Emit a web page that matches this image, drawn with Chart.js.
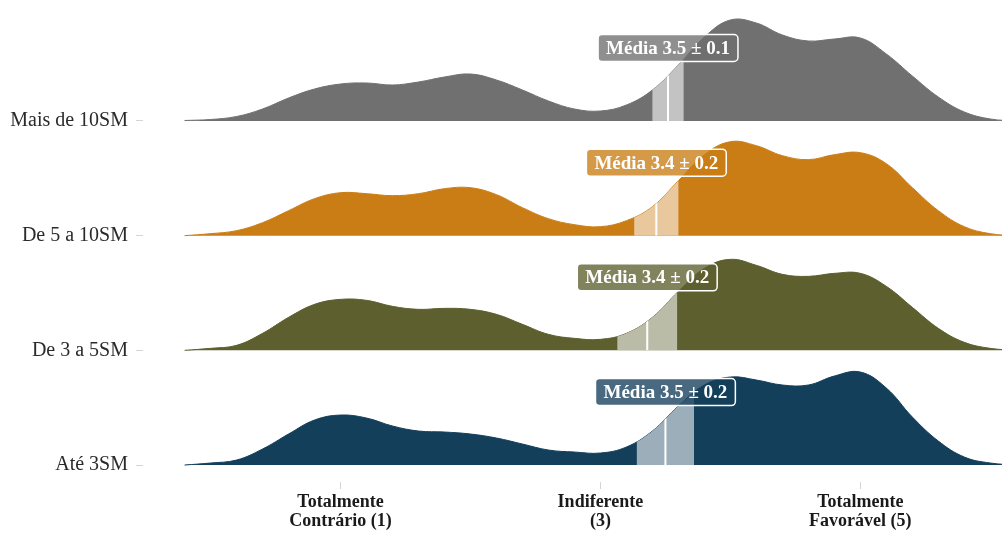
<!DOCTYPE html>
<html lang="pt">
<head>
<meta charset="utf-8">
<title>Distribuição das respostas por faixa de renda</title>
<script src="https://cdn.jsdelivr.net/npm/chart.js@4.4.1/dist/chart.umd.min.js"></script>
<style>
  body { margin: 0; background: #fff; }
</style>
</head>
<body>
<canvas id="ridges" width="1002" height="533"></canvas>
<script>
// faixas de renda, de baixo para cima
let faixas = ["Até 3SM", "De 3 a 5SM", "De 5 a 10SM", "Mais de 10SM"];
let cores = ["#143f5b", "#5d602e", "#c97d14", "#707070"];

// pontos da escala onde a densidade foi lida
let notas = [-0.2, 0, 0.2, 0.4, 0.6, 0.8, 1, 1.2, 1.4, 1.6, 1.8, 2, 2.2, 2.4, 2.6, 2.8,
             3, 3.2, 3.4, 3.6, 3.8, 4, 4.2, 4.4, 4.6, 4.8, 5, 5.2, 5.4, 5.6, 5.8, 6, 6.2];

let densAte3 = [0, 0.02, 0.05, 0.16, 0.31, 0.45, 0.50, 0.47, 0.39, 0.34, 0.33, 0.31, 0.27, 0.21, 0.15, 0.13,
                0.12, 0.18, 0.34, 0.59, 0.80, 0.88, 0.85, 0.80, 0.80, 0.89, 0.93, 0.77, 0.48, 0.24, 0.08, 0.02, 0];
let dens3a5 = [0, 0.02, 0.05, 0.17, 0.33, 0.46, 0.51, 0.50, 0.44, 0.41, 0.42, 0.41, 0.36, 0.26, 0.16, 0.12,
               0.11, 0.17, 0.33, 0.59, 0.82, 0.91, 0.85, 0.76, 0.74, 0.77, 0.77, 0.64, 0.43, 0.22, 0.08, 0.02, 0];
let dens5a10 = [0, 0.02, 0.05, 0.13, 0.25, 0.37, 0.43, 0.42, 0.40, 0.42, 0.47, 0.48, 0.41, 0.28, 0.17, 0.11,
                0.09, 0.15, 0.29, 0.55, 0.81, 0.94, 0.90, 0.80, 0.76, 0.81, 0.83, 0.72, 0.48, 0.25, 0.09, 0.02, 0];
let densMais10 = [0.005, 0.015, 0.045, 0.12, 0.23, 0.32, 0.37, 0.38, 0.36, 0.39, 0.44, 0.47, 0.41, 0.31, 0.20, 0.12,
                  0.10, 0.16, 0.31, 0.56, 0.84, 1.01, 0.98, 0.86, 0.80, 0.82, 0.83, 0.67, 0.45, 0.24, 0.09, 0.02, 0];

// média e margem de erro de cada faixa
let medias = [3.50, 3.36, 3.43, 3.52];
let erros = [0.22, 0.23, 0.17, 0.12];

let ticksX = [1, 3, 5];
let rotulosX = [["Totalmente", "Contrário (1)"], ["Indiferente", "(3)"], ["Totalmente", "Favorável (5)"]];

let escala = 0.872; // altura das cristas em unidades de linha
let densidades = [densAte3, dens3a5, dens5a10, densMais10];

function rgba(hex, a) {
  let n = parseInt(hex.slice(1), 16);
  return `rgba(${(n >> 16) & 255},${(n >> 8) & 255},${n & 255},${a})`;
}

// sem folga extra em volta dos eixos
function semFolga(s) {
  s.paddingTop = 0;
  s.paddingBottom = 0;
  s.paddingLeft = 0;
  s.paddingRight = 0;
}

// faixa da margem de erro, linha da média e caixa com o texto
const faixaMedia = {
  id: "faixaMedia",
  afterDatasetsDraw(chart) {
    const { ctx, chartArea, scales: { x, y } } = chart;
    faixas.forEach((f, i) => {
      const linha = chart.getDatasetMeta(i).dataset;
      const pts = linha.points;
      const base = y.getPixelForValue(i);
      const xm = x.getPixelForValue(medias[i]);
      const x0 = x.getPixelForValue(medias[i] - erros[i]);
      const x1 = x.getPixelForValue(medias[i] + erros[i]);

      ctx.save();
      ctx.beginPath();
      linha.path(ctx);
      ctx.lineTo(pts[pts.length - 1].x, base);
      ctx.lineTo(pts[0].x, base);
      ctx.closePath();
      ctx.clip();
      ctx.fillStyle = "rgba(255,255,255,0.58)";
      ctx.fillRect(x0, chartArea.top, x1 - x0, base - chartArea.top);
      ctx.fillStyle = "#ffffff";
      ctx.fillRect(xm - 1, chartArea.top, 2, base - chartArea.top);
      ctx.restore();

      const texto = "Média " + medias[i].toFixed(1) + " ± " + erros[i].toFixed(1);
      ctx.save();
      ctx.font = "bold 19px 'Liberation Serif'";
      const w = ctx.measureText(texto).width + 16;
      const h = 27;
      const cy = base - 73;
      ctx.beginPath();
      ctx.roundRect(xm - w / 2, cy - h / 2, w, h, 4);
      ctx.fillStyle = rgba(cores[i], 0.78);
      ctx.fill();
      ctx.lineWidth = 1.5;
      ctx.strokeStyle = "#ffffff";
      ctx.stroke();
      ctx.fillStyle = "#ffffff";
      ctx.textAlign = "center";
      ctx.textBaseline = "middle";
      ctx.fillText(texto, xm, cy + 1);
      ctx.restore();
    });
  }
};

let ctx = document.getElementById("ridges").getContext("2d");

let ridgeChart = new Chart(ctx, {
  type: "line",
  data: {
    datasets: faixas.map((f, i) => ({
      label: f,
      data: notas.map((v, j) => ({ x: v, y: i + densidades[i][j] * escala })),
      backgroundColor: cores[i],
      borderColor: cores[i],
      borderWidth: 1,
      fill: { value: i },
      tension: 0.4,
      pointRadius: 0,
    })),
  },
  options: {
    responsive: false,
    animation: false,
    events: [],
    layout: { padding: 0 },
    plugins: {
      legend: { display: false },
      tooltip: { enabled: false },
    },
    scales: {
      x: {
        type: "linear",
        min: -0.52,
        max: 6.09,
        afterFit: (s) => { s.height = 51; semFolga(s); },
        afterBuildTicks: (s) => { s.ticks = ticksX.map((v) => ({ value: v })); },
        ticks: {
          callback: (v, idx) => rotulosX[idx],
          autoSkip: false,
          maxRotation: 0,
          padding: 4,
          color: "#1a1a1a",
          font: { family: "Liberation Serif", weight: "bold", size: 18, lineHeight: 1.06 },
        },
        grid: { drawOnChartArea: false, tickLength: 7, color: "#d4d4d4" },
        border: { display: false },
      },
      y: {
        type: "linear",
        min: -0.148,
        max: 4.055,
        afterFit: (s) => { s.width = 143; semFolga(s); },
        afterBuildTicks: (s) => { s.ticks = faixas.map((f, i) => ({ value: i })); },
        ticks: {
          callback: (v, idx) => faixas[idx],
          autoSkip: false,
          padding: 8,
          color: "#2a2a2a",
          font: { family: "Liberation Serif", size: 20 },
        },
        grid: { drawOnChartArea: false, tickLength: 7, color: "#d4d4d4" },
        border: { display: false },
      },
    },
  },
  plugins: [faixaMedia],
});
</script>
</body>
</html>
